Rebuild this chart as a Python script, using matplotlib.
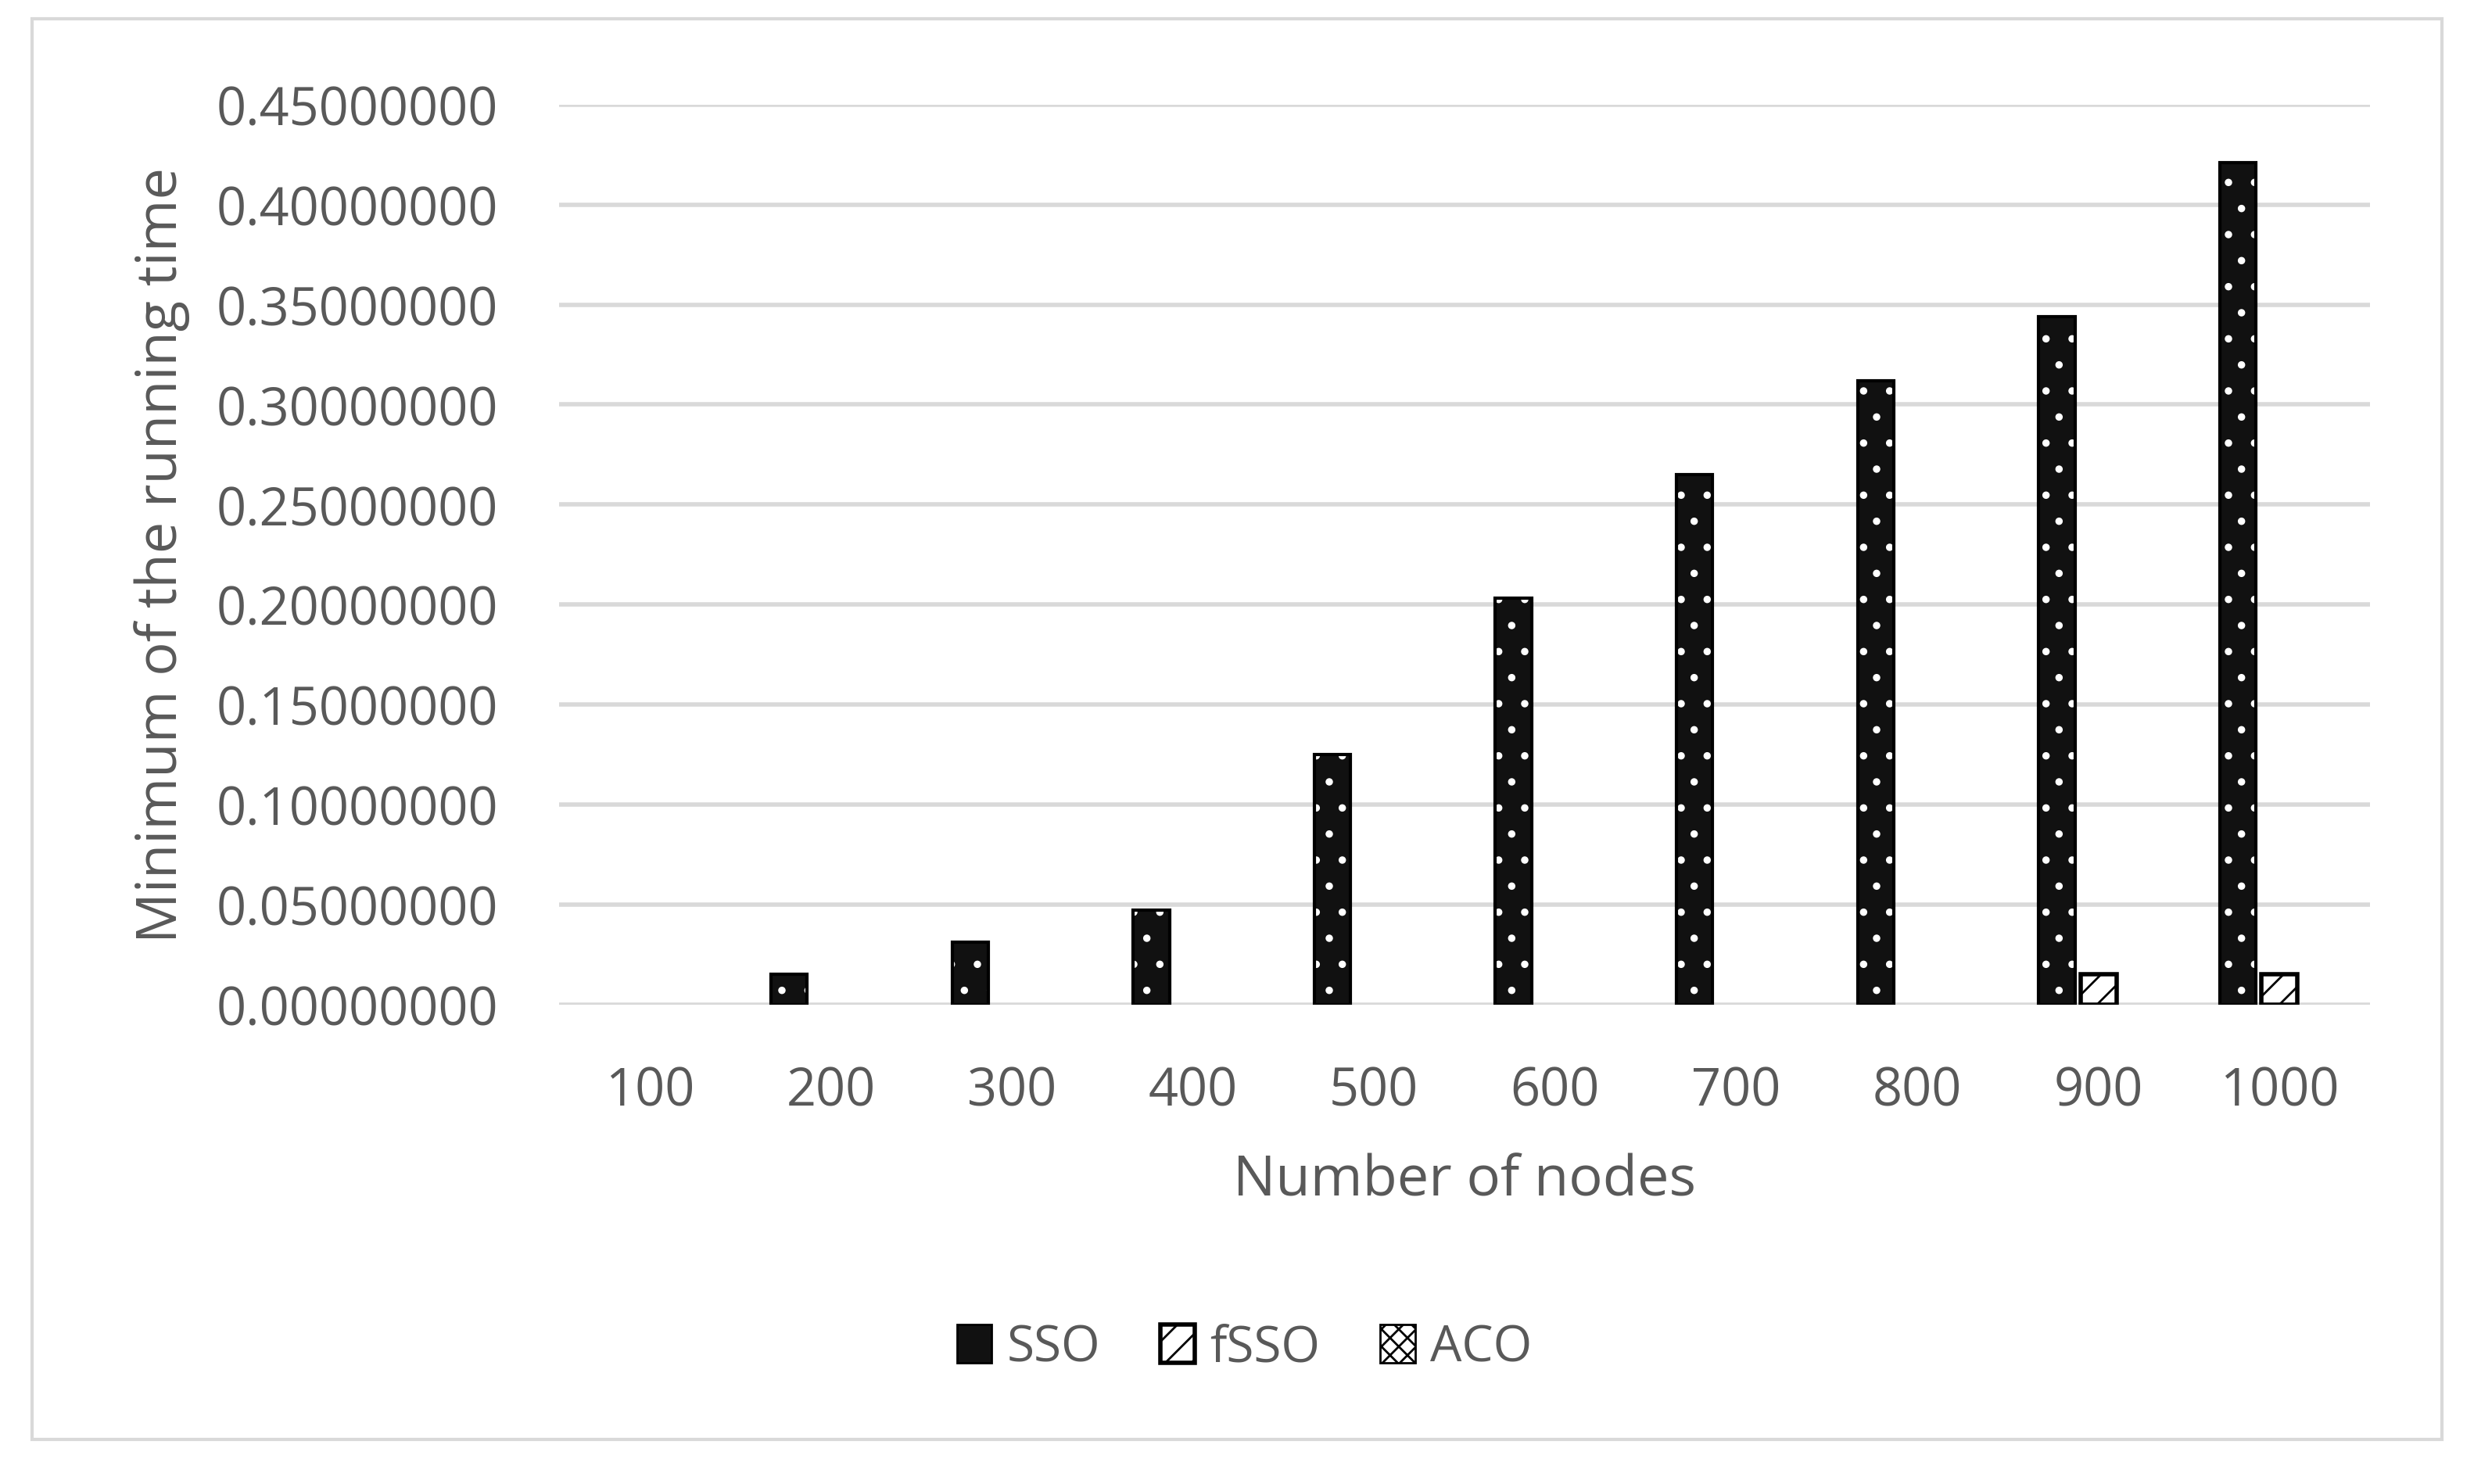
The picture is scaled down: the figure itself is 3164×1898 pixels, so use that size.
import numpy as np
import matplotlib.pyplot as plt
from matplotlib.patches import Rectangle, Patch

plt.rcParams['font.family'] = ['Open Sans', 'DejaVu Sans']

nodes = ['100', '200', '300', '400', '500', '600', '700', '800', '900', '1000']
sso = [0.0, 0.015, 0.031, 0.047, 0.125, 0.203, 0.265, 0.312, 0.344, 0.421]
fsso = [0.0, 0.0, 0.0, 0.0, 0.0, 0.0, 0.0, 0.0, 0.015, 0.015]
aco = [0.0] * 10

grey = '#595959'
fig = plt.figure(figsize=(15.82, 9.495), dpi=200)
fig.patches.append(Rectangle((0.013, 0.03), 0.974, 0.957, transform=fig.transFigure,
                             fill=False, edgecolor='#d9d9d9', linewidth=1.5))
ax = fig.add_axes([0.226, 0.323, 0.732, 0.606])

x = np.arange(len(nodes))
w = 0.2
# SSO: black with white dots
ax.bar(x - 0.23, sso, w, color='#111111', edgecolor='white', hatch='.', linewidth=0, zorder=3)
ax.bar(x - 0.23, sso, w, fill=False, edgecolor='black',
       linewidth=[1.5 if v > 0 else 0 for v in sso], zorder=4)
# fSSO: white with black diagonal
ax.bar(x, fsso, w, color='white', edgecolor='black', hatch='//',
       linewidth=[2 if v > 0 else 0 for v in fsso], zorder=3)
ax.bar(x + 0.23, aco, w, color='white', edgecolor='black', hatch='xx',
       linewidth=[2 if v > 0 else 0 for v in aco], zorder=3)

ax.set_ylim(0, 0.45)
ax.set_xlim(-0.5, len(nodes) - 0.5)
ax.set_yticks(np.arange(0, 0.451, 0.05))
ax.set_yticklabels(['%.8f' % v for v in np.arange(0, 0.451, 0.05)])
ax.set_xticks(x)
ax.set_xticklabels(nodes)
ax.yaxis.grid(True, color='#d9d9d9', linewidth=2)
ax.set_axisbelow(True)
for s in ax.spines.values():
    s.set_visible(False)
ax.tick_params(length=0, labelsize=24, colors=grey)
ax.tick_params(axis='x', pad=28)
ax.tick_params(axis='y', pad=28)
ax.set_xlabel('Number of nodes', fontsize=26, color=grey, labelpad=16)
ax.set_ylabel('Minimum of the running time', fontsize=26, color=grey, labelpad=12)

handles = [Patch(facecolor='#111111', edgecolor='black', label='SSO'),
           Patch(facecolor='white', edgecolor='black', hatch='//', label='fSSO', linewidth=2),
           Patch(facecolor='white', edgecolor='black', hatch='xxx', label='ACO')]
leg = fig.legend(handles=handles, loc='center', bbox_to_anchor=(0.503, 0.092), ncol=3,
                 frameon=False, fontsize=23, handlelength=0.7, handleheight=0.8,
                 handletextpad=0.3, columnspacing=1.2)
for t in leg.get_texts():
    t.set_color(grey)

fig.savefig('out.png', dpi=200)
